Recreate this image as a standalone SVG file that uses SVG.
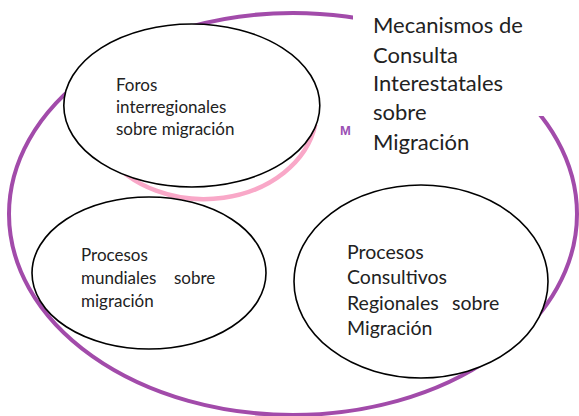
<svg xmlns="http://www.w3.org/2000/svg" width="579" height="416" viewBox="0 0 579 416">
<style>
.node{fill:#fff;stroke:#000;stroke-width:1.6}
.t{font-family:Lato,"Liberation Sans",sans-serif;fill:#222}
</style>
<rect width="579" height="416" fill="#fff"/>
<g id="outer">
<ellipse cx="293" cy="214" rx="284" ry="201" fill="none" stroke="#A24BAA" stroke-width="4"/>
</g>
<g id="pink-ring">
<path d="M106,154 A113 90 0 0 0 315.3,124.6" fill="none" stroke="#F9A8C8" stroke-width="4.5"/>
</g>
<g id="connectors"></g>
<g id="foros">
<ellipse class="node" cx="191.8" cy="105.5" rx="128" ry="81.5"/>
<text class="t" font-size="17"><tspan x="116" y="91">Foros</tspan><tspan x="116" y="113">interregionales</tspan><tspan x="116" y="135">sobre migración</tspan></text>
</g>
<g id="mundiales">
<ellipse class="node" cx="149" cy="273" rx="117" ry="76"/>
<text class="t" font-size="17"><tspan x="81" y="261">Procesos</tspan><tspan x="81" y="284">mundiales</tspan><tspan x="174" y="284">sobre</tspan><tspan x="81" y="306.5">migración</tspan></text>
</g>
<g id="consultivos">
<ellipse class="node" cx="421" cy="281.5" rx="127" ry="96.5"/>
<text class="t" font-size="19.5"><tspan x="347" y="258.5">Procesos</tspan><tspan x="347" y="284">Consultivos</tspan><tspan x="347" y="309.5">Regionales</tspan><tspan x="452" y="309.5">sobre</tspan><tspan x="347" y="335">Migración</tspan></text>
</g>
<g id="title">
<text x="340" y="135" font-family="'Liberation Sans',sans-serif" font-size="13" font-weight="bold" fill="#9A50B4">M</text>
<rect x="353" y="0" width="194" height="116" fill="#fff"/>
<text class="t" font-size="22" fill="#111"><tspan x="373" y="33">Mecanismos de</tspan><tspan x="373" y="62.5">Consulta</tspan><tspan x="373" y="91">Interestatales</tspan><tspan x="373" y="120">sobre</tspan><tspan x="373" y="149.5">Migración</tspan></text>
</g>
</svg>
